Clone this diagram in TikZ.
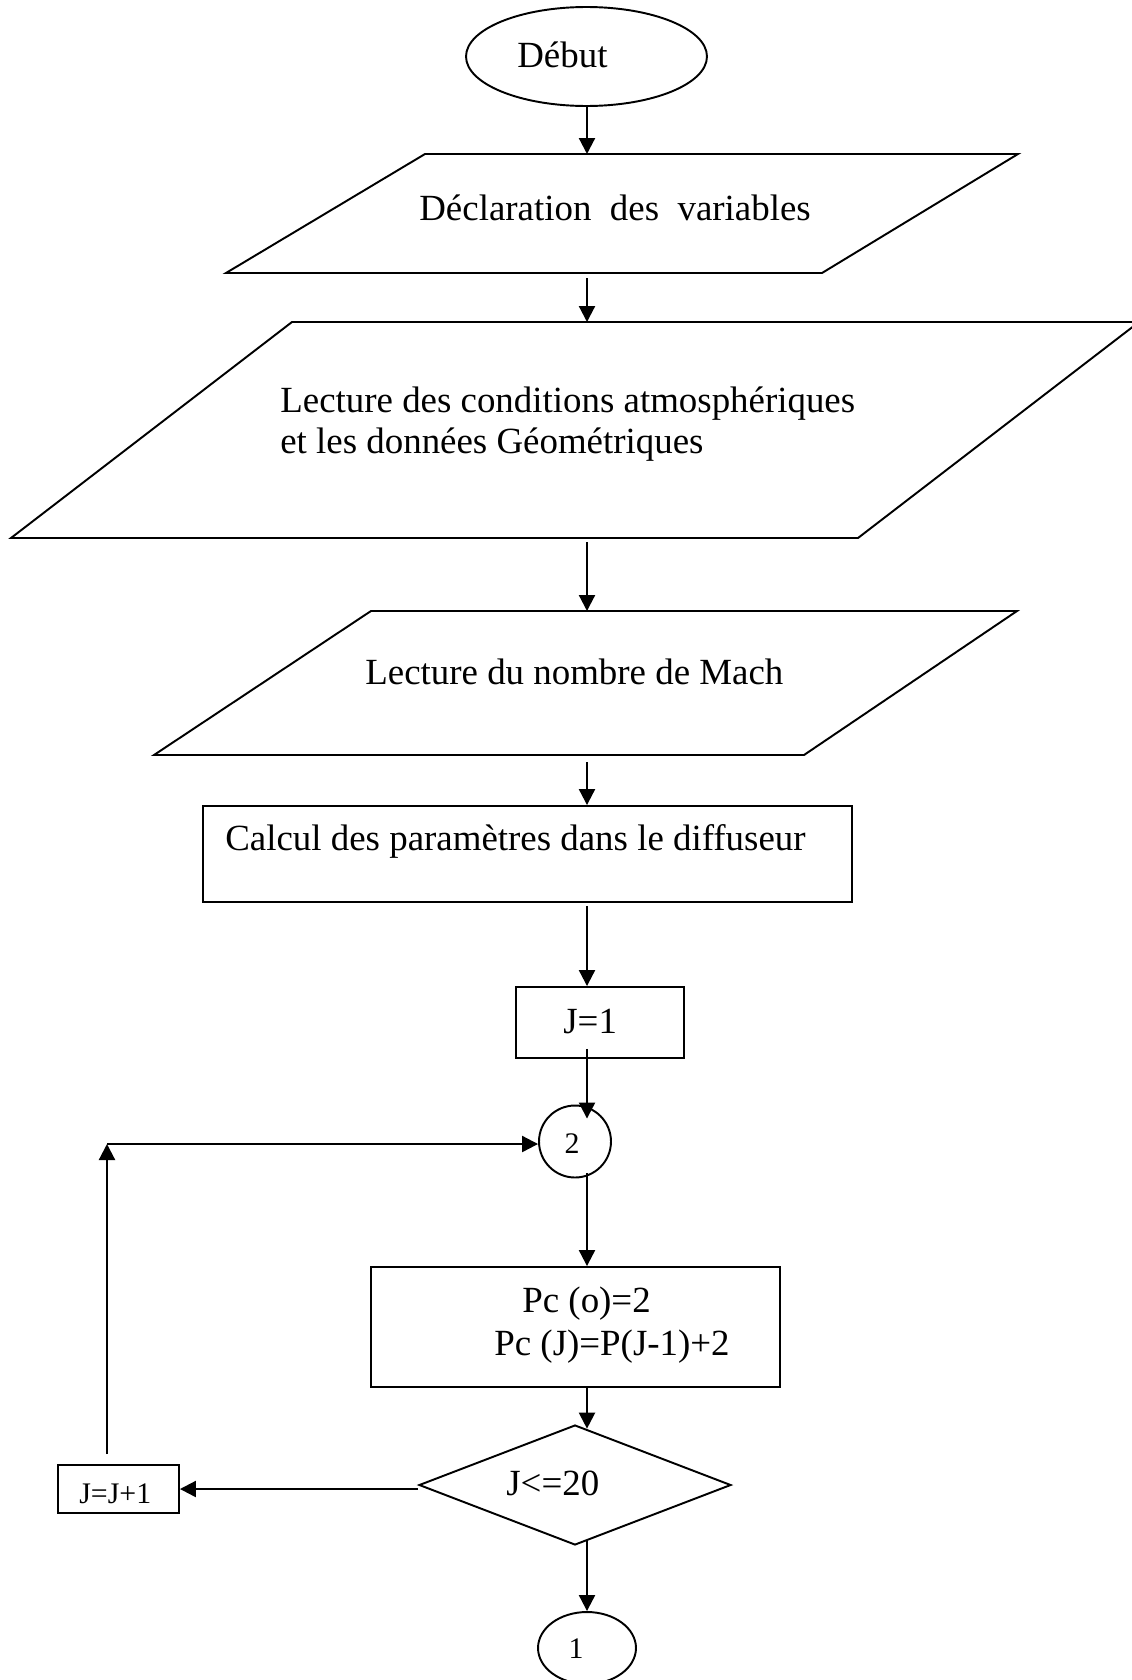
\documentclass[tikz,border=0pt]{standalone}
\usepackage{fontspec}
\setmainfont{Liberation Serif}
\usetikzlibrary{shapes.geometric,arrows.meta,calc}

\tikzset{
  outline/.style={draw=black, line width=1.1pt},
  box/.style={outline, rectangle, inner sep=0pt},
  arr/.style={line width=1.25pt, -{Triangle[length=3.2mm,width=3.2mm]}},
  txt/.style={inner sep=0pt, anchor=base west, font=\fontsize{21}{25}\selectfont},
  smalltxt/.style={inner sep=0pt, font=\fontsize{17}{20}\selectfont},
}

\begin{document}
\begin{tikzpicture}[x=0.02cm, y=-0.02cm]
  \useasboundingbox (0,0) rectangle (1132,1680);
  \clip (0,0) rectangle (1132,1680);
  \fill[white] (0,0) rectangle (1132,1680);

  % vertical axis of the main flow
  \coordinate (axis) at (587,0);

  % start
  \node[outline, ellipse, inner sep=0pt, minimum width=4.82cm, minimum height=1.98cm] (debut) at (586.5,56.5) {};
  \node[txt] (tdebut) at (517,67) {Début};

  % input / output parallelograms
  \draw[outline] (226,273) -- (822,273) -- (1018,154) -- (425,154) -- cycle;
  \node[txt] (tdecl) at (419,220) {Déclaration\ \ des\ \ variables};
  \coordinate (p1in)  at (587,154);
  \coordinate (p1out) at (587,278);

  \draw[outline] (11,538) -- (858,538) -- (1139,322) -- (292,322) -- cycle;
  \node[txt] (tlect1) at (280,412) {Lecture des conditions atmosphériques};
  \node[txt] (tlect2) at (280,453) {et les données Géométriques};
  \coordinate (p2in)  at (587,322);
  \coordinate (p2out) at (587,542);

  \draw[outline] (154,755) -- (804,755) -- (1017,611) -- (371,611) -- cycle;
  \node[txt] (tmach) at (365,684) {Lecture du nombre de Mach};
  \coordinate (p3in)  at (587,611);
  \coordinate (p3out) at (587,762);

  % processing boxes
  \node[box, minimum width=12.98cm, minimum height=1.92cm] (calc) at (527.5,854) {};
  \node[txt] (tcalc) at (225,850) {Calcul des paramètres dans le diffuseur};

  \node[box, minimum width=3.36cm, minimum height=1.42cm] (j1) at (600,1022.5) {};
  \node[txt] (tj1) at (563,1033) {J=1};

  \node[outline, circle, inner sep=0pt, minimum size=1.44cm] (c2) at (575,1141.5) {};
  \node[smalltxt, anchor=base] (tc2) at (572,1153) {2};

  \node[box, minimum width=8.18cm, minimum height=2.4cm] (pc) at (575.5,1327) {};
  \node[txt] (tpc1) at (522,1312) {Pc (o)=2};
  \node[txt] (tpc2) at (494,1355) {Pc (J)=P(J-1)+2};

  \node[outline, diamond, inner sep=0pt, minimum width=6.24cm, minimum height=2.4cm] (dec) at (575,1485) {};
  \node[txt] (tdec) at (506,1495) {J<=20};

  \node[box, minimum width=2.42cm, minimum height=0.96cm] (jj) at (118.5,1489) {};
  \node[smalltxt, anchor=base west] (tjj) at (79,1503) {J=J+1};

  \node[outline, ellipse, inner sep=0pt, minimum width=1.96cm, minimum height=1.44cm] (c1) at (587,1648) {};
  \node[smalltxt, anchor=base] (tc1) at (576,1658) {1};

  % loop corner
  \coordinate (loop) at (107,1144);

  % connectors
  \draw[arr] (debut.south -| axis) -- (p1in);
  \draw[arr] (p1out) -- (p2in);
  \draw[arr] (p2out) -- (p3in);
  \draw[arr] (p3out) -- (calc.north -| axis);
  \draw[arr] ($(calc.south -| axis)+(0,3)$) -- (j1.north -| axis);
  \draw[arr] ($(j1.south -| axis)+(0,-10)$) -- ($(c2.north -| axis)+(0,14)$);
  \draw[arr] ($(c2.south -| axis)+(0,-5)$) -- (pc.north -| axis);
  \draw[arr] (pc.south -| axis) -- ($(dec.north -| axis)+(0,4.6)$);
  \draw[arr] (dec.west |- jj.east) -- (jj.east);
  \draw[arr] ($(jj.north -| loop)+(0,-10)$) -- (loop);
  \draw[arr] (loop) -- (loop -| c2.west);
  \draw[arr] ($(dec.south -| axis)+(0,-4.6)$) -- (c1.north -| axis);
\end{tikzpicture}
\end{document}
